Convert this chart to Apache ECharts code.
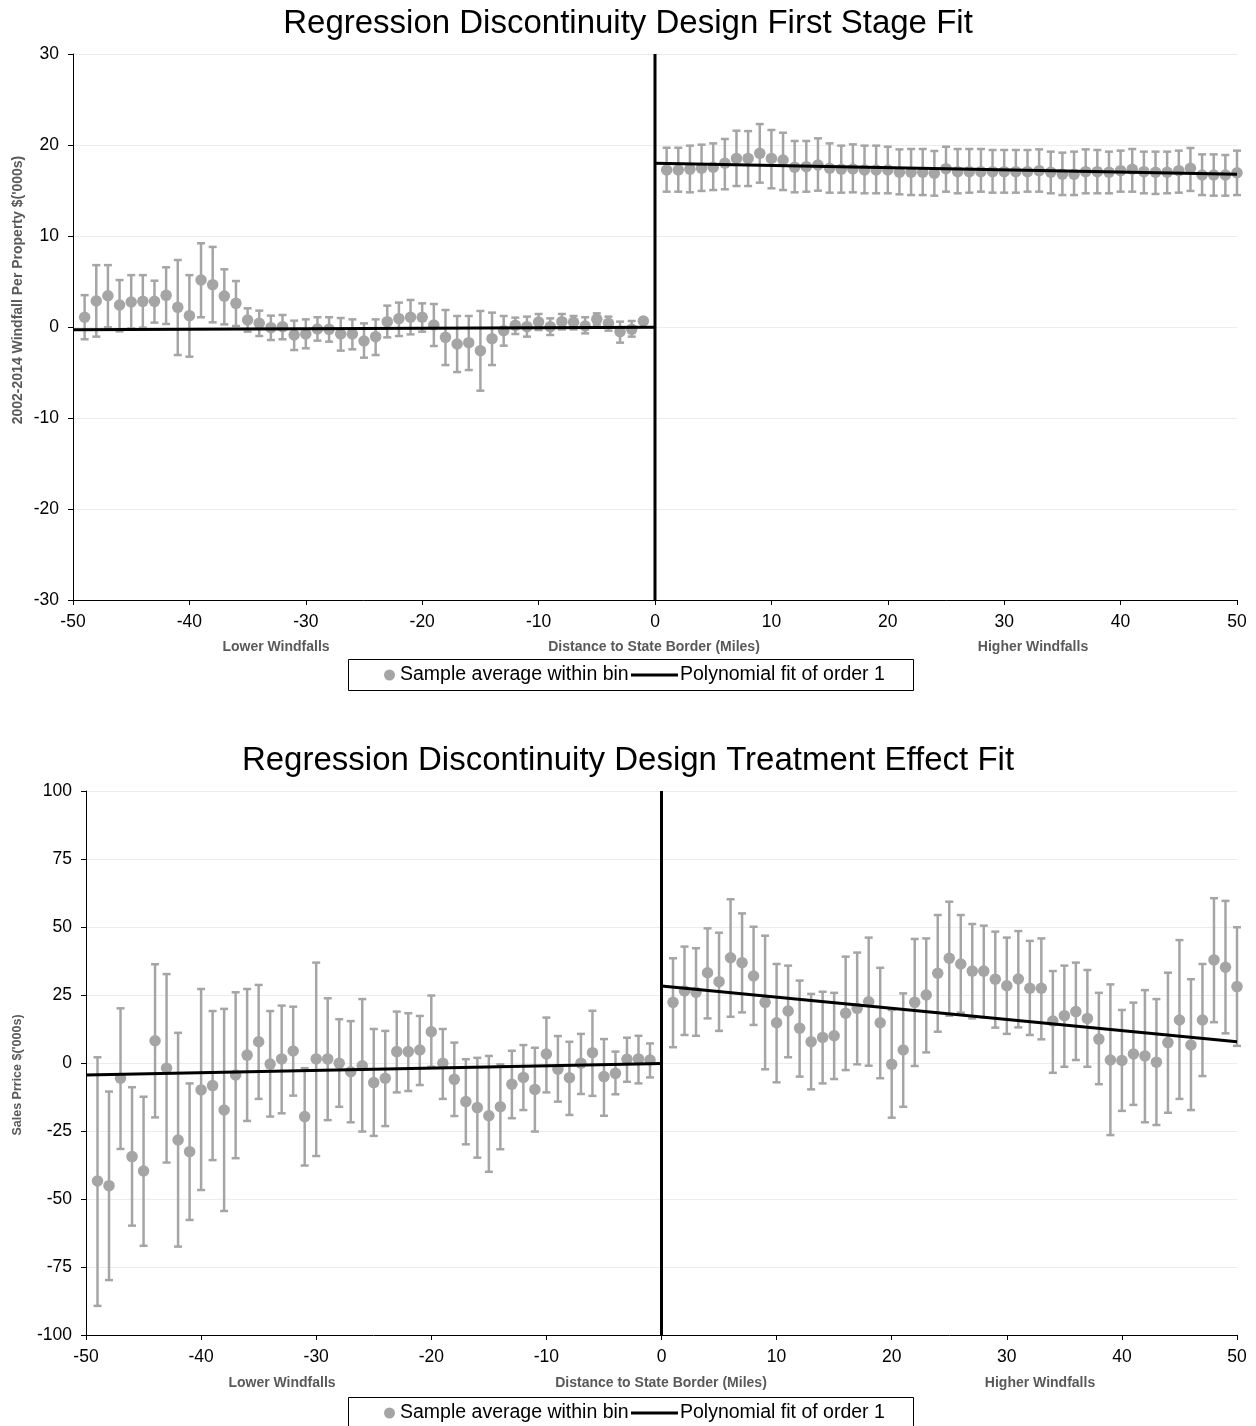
<!DOCTYPE html>
<html>
<head>
<meta charset="utf-8">
<script src="https://cdn.jsdelivr.net/npm/echarts@6/dist/echarts.min.js"></script>
<style>
html,body{margin:0;padding:0;background:#fff;}
#chart{width:1256px;height:1426px;}
</style>
</head>
<body>
<div id="chart"></div>
<script>
// ---------- DATA ----------
const binsLeft = [-49,-48,-47,-46,-45,-44,-43,-42,-41,-40,-39,-38,-37,-36,-35,-34,-33,-32,-31,-30,-29,-28,-27,-26,-25,-24,-23,-22,-21,-20,-19,-18,-17,-16,-15,-14,-13,-12,-11,-10,-9,-8,-7,-6,-5,-4,-3,-2,-1];
const binsRight = [1,2,3,4,5,6,7,8,9,10,11,12,13,14,15,16,17,18,19,20,21,22,23,24,25,26,27,28,29,30,31,32,33,34,35,36,37,38,39,40,41,42,43,44,45,46,47,48,49,50];

// First stage (windfall, $'000s)
const fsMeanLeft = [1.07,2.86,3.44,2.42,2.75,2.82,2.82,3.48,2.16,1.25,5.16,4.65,3.4,2.6,0.77,0.4,-0.07,0.04,-0.88,-0.77,-0.22,-0.26,-0.77,-0.77,-1.54,-1.06,0.59,0.92,1.07,1.07,0.22,-1.14,-1.87,-1.72,-2.6,-1.28,-0.4,0.18,0.04,0.55,0.04,0.59,0.51,0.11,0.84,0.4,-0.51,-0.26,0.66];
const fsUpperLeft = [3.5,6.8,6.8,5.16,5.7,5.7,5.09,6.56,7.36,5.7,9.2,8.8,6.34,5.05,2.05,1.8,1.25,1.32,0.7,0.84,1.07,1.07,0.99,0.84,0.4,0.84,2.35,2.68,2.97,2.6,2.53,1.87,1.21,1.21,1.76,1.58,1.21,1.03,1.14,1.43,0.95,1.43,1.21,1.07,1.5,1.14,0.59,0.66,0.8];
const fsLowerLeft = [-1.35,-1.06,-0.04,-0.48,-0.15,-0.07,0.48,0.33,-3.08,-3.26,1.07,0.51,0.29,0.11,-0.51,-0.99,-1.43,-1.35,-2.53,-2.34,-1.5,-1.61,-2.6,-2.45,-3.37,-3.08,-1.14,-0.99,-0.81,-0.51,-2.09,-4.18,-4.95,-4.73,-7.0,-4.18,-2.05,-0.77,-1.06,-0.33,-0.88,-0.26,-0.26,-0.7,0.22,-0.4,-1.72,-1.06,0.5];
const fsMeanRight = [17.25,17.25,17.33,17.44,17.55,17.99,18.53,18.53,19.08,18.53,18.35,17.55,17.62,17.8,17.44,17.33,17.36,17.25,17.25,17.25,17.0,17.0,17.0,16.89,17.4,17.07,17.07,17.07,17.07,17.07,17.07,17.07,17.18,17.0,16.78,16.78,17.07,17.07,17.0,17.18,17.33,17.07,17.0,17.0,17.18,17.44,16.7,16.7,16.7,16.95];
const fsUpperRight = [19.7,19.7,19.93,20.04,20.18,20.66,21.57,21.53,22.3,21.65,21.35,20.44,20.44,20.73,20.18,19.93,20.07,19.93,19.93,19.81,19.52,19.56,19.56,19.34,19.81,19.56,19.56,19.56,19.45,19.45,19.45,19.45,19.52,19.27,19.16,19.27,19.52,19.45,19.27,19.38,19.56,19.27,19.27,19.27,19.38,19.67,18.97,18.97,18.9,19.38];
const fsLowerRight = [14.87,14.87,14.8,14.95,15.05,15.13,15.49,15.49,15.86,15.24,15.05,14.8,14.87,14.98,14.76,14.76,14.8,14.69,14.69,14.69,14.58,14.5,14.5,14.43,14.87,14.69,14.76,14.87,14.76,14.76,14.76,14.87,14.87,14.69,14.5,14.5,14.69,14.69,14.69,14.87,14.87,14.69,14.62,14.69,14.76,14.95,14.5,14.43,14.43,14.5];
const fsFitLeft = [[-50,-0.3],[0,-0.02]];
const fsFitRight = [[0,18.0],[50,16.78]];

// Treatment effect (sales price, $'000s)
const tePriceMeanLeft = [-43.4,-45.1,-5.6,-34.4,-39.7,8.2,-1.9,-28.3,-32.6,-9.9,-8.3,-17.3,-4.4,2.9,7.8,-0.4,1.5,4.4,-19.7,1.5,1.5,-0.1,-3.2,-1.0,-7.2,-5.6,4.2,4.2,4.8,11.5,-0.1,-6.0,-14.2,-16.4,-19.4,-16.1,-7.8,-5.3,-9.7,3.3,-2.3,-5.4,-0.1,3.8,-5.0,-3.8,1.4,1.5,1.1];
const tePriceUpperLeft = [2.1,-10.5,20.1,-8.9,-12.4,36.3,32.7,11.1,-7.5,27.2,19.1,19.9,26.0,27.2,28.7,19.1,21.1,20.7,-1.9,36.9,23.8,16.1,15.4,23.5,12.5,11.8,18.9,18.3,17.3,24.8,12.5,7.5,1.4,1.9,2.6,-0.5,4.5,6.6,5.6,16.7,9.9,7.8,10.7,19.2,8.8,4.2,9.3,10.0,7.2];
const tePriceLowerLeft = [-89.3,-79.8,-31.6,-59.8,-67.2,-20.0,-36.6,-67.5,-57.7,-46.7,-35.7,-54.4,-35.0,-21.3,-13.2,-19.7,-18.5,-12.0,-37.7,-34.2,-21.0,-16.1,-21.8,-25.2,-26.8,-23.2,-10.8,-10.3,-8.1,-1.4,-13.2,-19.5,-29.9,-34.8,-40.0,-31.7,-20.3,-17.3,-25.2,-10.8,-14.2,-19.1,-11.4,-12.1,-19.4,-11.5,-6.9,-7.5,-5.3];
const tePriceMeanRight = [22.3,26.5,26.0,33.2,29.9,38.7,36.9,32.0,22.3,14.8,19.1,12.8,7.8,9.4,10.0,18.3,20.1,22.5,14.8,-0.5,4.8,22.3,25.0,33.0,38.5,36.4,33.8,33.8,30.8,28.4,30.9,27.5,27.5,15.4,17.4,18.9,16.4,8.8,1.1,0.9,3.3,2.6,0.3,7.5,15.8,6.6,15.8,37.9,35.2,28.1];
const tePriceUpperRight = [38.5,42.8,42.2,49.5,47.9,60.2,55.0,50.1,46.8,36.4,35.8,30.3,25.4,26.2,25.8,39.1,40.6,46.1,35.0,19.5,25.6,45.6,45.8,54.4,59.3,54.4,51.1,50.5,48.3,46.1,48.5,44.9,45.8,33.8,35.8,36.9,34.2,25.8,28.9,19.5,22.2,26.8,23.5,33.2,45.2,30.8,36.4,60.6,59.6,49.9];
const tePriceLowerRight = [5.8,10.3,10.0,16.4,11.8,17.0,18.6,14.0,-2.3,-7.1,2.1,-5.0,-9.7,-7.5,-5.9,-2.6,-0.5,-1.0,-5.6,-20.1,-16.1,-1.1,3.9,11.5,17.4,18.5,16.4,16.8,13.0,10.7,13.1,10.3,8.7,-3.6,-1.4,1.1,-1.4,-7.8,-26.5,-17.6,-15.4,-21.8,-22.8,-18.3,-13.2,-17.3,-4.8,15.0,10.9,6.3];
const teFitLeft = [[-50,-4.4],[0,-0.2]];
const teFitRight = [[0,28.3],[50,7.8]];

const xTicks = {min:-50, max:50, interval:10};
const fsTicks = {min:-30, max:30, interval:10};
const teTicks = {min:-100, max:100, interval:25};

const titles = ['Regression Discontinuity Design First Stage Fit','Regression Discontinuity Design Treatment Effect Fit'];
const yNames = ["2002-2014 Windfall Per Property $('000s)", "Sales Prrice $('000s)"];
const xName = 'Distance to State Border (Miles)';
const xLowName = 'Lower Windfalls';
const xHighName = 'Higher Windfalls';
const scatterName = 'Sample average within bin';
const fitName = 'Polynomial fit of order 1';

// ---------- BUILD ----------
const FONT = "'Liberation Sans', Arial, sans-serif";
const GREY = '#A5A5A5';

function zip3(xs, a, b) { return xs.map((x,i)=>[x,a[i],b[i]]); }
function zip2(xs, a) { return xs.map((x,i)=>[x,a[i]]); }

function renderErr(params, api) {
  const x = api.value(0), hi = api.value(1), lo = api.value(2);
  const p1 = api.coord([x, hi]);
  const p2 = api.coord([x, lo]);
  const w = 4;
  const style = {stroke: GREY, lineWidth: 2.5};
  return {type:'group', children:[
    {type:'line', shape:{x1:p1[0], y1:p1[1], x2:p2[0], y2:p2[1]}, style: style},
    {type:'line', shape:{x1:p1[0]-w, y1:p1[1], x2:p1[0]+w, y2:p1[1]}, style: style},
    {type:'line', shape:{x1:p2[0]-w, y1:p2[1], x2:p2[0]+w, y2:p2[1]}, style: style}
  ]};
}

function errSeries(gi, data) {
  return {type:'custom', xAxisIndex:gi, yAxisIndex:gi, renderItem: renderErr, data: data,
          encode:{x:0, y:[1,2]}, silent:true, z:2};
}
function ptSeries(gi, data) {
  return {type:'scatter', name: scatterName, xAxisIndex:gi, yAxisIndex:gi, data: data,
          symbol:'circle', symbolSize:11.5, itemStyle:{color:GREY, opacity:1}, z:3, silent:true};
}
function fitSeries(gi, data) {
  return {type:'line', name: fitName, xAxisIndex:gi, yAxisIndex:gi, data: data,
          symbol:'none', lineStyle:{color:'#000', width:3}, itemStyle:{color:'#000'}, z:5, silent:true};
}
function cutSeries(gi, ticks) {
  return {type:'line', xAxisIndex:gi, yAxisIndex:gi, data:[[0,ticks.min],[0,ticks.max]],
          symbol:'none', lineStyle:{color:'#000', width:3}, z:6, silent:true};
}

function xAxisDef(gi) {
  return {type:'value', gridIndex:gi, min:xTicks.min, max:xTicks.max, interval:xTicks.interval,
    axisLine:{show:true, onZero:false, lineStyle:{color:'#000', width:1}},
    axisTick:{show:true, inside:false, length:5, lineStyle:{color:'#000'}},
    axisLabel:{color:'#000', fontSize:17.5, fontFamily:FONT, margin:13},
    splitLine:{show:false}};
}
function yAxisDef(gi, ticks) {
  return {type:'value', gridIndex:gi, min:ticks.min, max:ticks.max, interval:ticks.interval,
    axisLine:{show:true, onZero:false, lineStyle:{color:'#000', width:1}},
    axisTick:{show:true, inside:false, length:5, lineStyle:{color:'#000'}},
    axisLabel:{color:'#000', fontSize:17.5, fontFamily:FONT, margin:14},
    splitLine:{show:true, lineStyle:{color:'#E6EEEE', width:1}}};
}

function legendPair(top) {
  return [
    {left:384, top: top, padding:0, itemWidth:11, itemHeight:11, icon:'circle',
     data:[scatterName], textStyle:{fontSize:19.5, fontFamily:FONT, color:'#000'}, selectedMode:false},
    {left:631, top: top, padding:0, itemWidth:47, itemHeight:3,
     data:[{name: fitName, icon:'rect'}], itemStyle:{color:'#000'},
     textStyle:{fontSize:19.5, fontFamily:FONT, color:'#000', padding:[0,0,0,-3]}, selectedMode:false}
  ];
}

function subText(x, y, txt) {
  return {type:'text', x:x, y:y, silent:true,
    style:{text:txt, fill:'#595959', font:'bold 14px ' + FONT, textAlign:'center', textVerticalAlign:'middle'}};
}

const option = {
  animation:false,
  backgroundColor:'#fff',
  title:[
    {text:titles[0], left:'center', top:2, textStyle:{fontSize:33, fontWeight:'normal', color:'#000', fontFamily:FONT}},
    {text:titles[1], left:'center', top:739, textStyle:{fontSize:33, fontWeight:'normal', color:'#000', fontFamily:FONT}}
  ],
  grid:[
    {left:73, top:54, width:1164, height:546},
    {left:86, top:791, width:1151, height:544}
  ],
  xAxis:[xAxisDef(0), xAxisDef(1)],
  yAxis:[yAxisDef(0, fsTicks), yAxisDef(1, teTicks)],
  legend: legendPair(665).concat(legendPair(1403)),
  graphic:[
    {type:'rect', shape:{x:348.5, y:659.5, width:565, height:31}, style:{fill:'none', stroke:'#000', lineWidth:1}, silent:true},
    {type:'rect', shape:{x:348.5, y:1397.5, width:565, height:32}, style:{fill:'none', stroke:'#000', lineWidth:1}, silent:true},
    subText(276, 647, xLowName), subText(654, 647, xName), subText(1033, 647, xHighName),
    subText(282, 1383, xLowName), subText(661, 1383, xName), subText(1040, 1383, xHighName),
    {type:'text', x:18, y:290, rotation:Math.PI/2, silent:true,
     style:{text:yNames[0], fill:'#595959', font:'bold 14px ' + FONT, textAlign:'center', textVerticalAlign:'middle'}},
    {type:'text', x:18, y:1075, rotation:Math.PI/2, silent:true,
     style:{text:yNames[1], fill:'#595959', font:'bold 12.5px ' + FONT, textAlign:'center', textVerticalAlign:'middle'}}
  ],
  series:[
    errSeries(0, zip3(binsLeft, fsUpperLeft, fsLowerLeft)),
    errSeries(0, zip3(binsRight, fsUpperRight, fsLowerRight)),
    ptSeries(0, zip2(binsLeft, fsMeanLeft)),
    ptSeries(0, zip2(binsRight, fsMeanRight)),
    fitSeries(0, fsFitLeft),
    fitSeries(0, fsFitRight),
    cutSeries(0, fsTicks),
    errSeries(1, zip3(binsLeft, tePriceUpperLeft, tePriceLowerLeft)),
    errSeries(1, zip3(binsRight, tePriceUpperRight, tePriceLowerRight)),
    ptSeries(1, zip2(binsLeft, tePriceMeanLeft)),
    ptSeries(1, zip2(binsRight, tePriceMeanRight)),
    fitSeries(1, teFitLeft),
    fitSeries(1, teFitRight),
    cutSeries(1, teTicks)
  ]
};

const chart = echarts.init(document.getElementById('chart'), null, {renderer:'canvas'});
chart.setOption(option);
</script>
</body>
</html>
